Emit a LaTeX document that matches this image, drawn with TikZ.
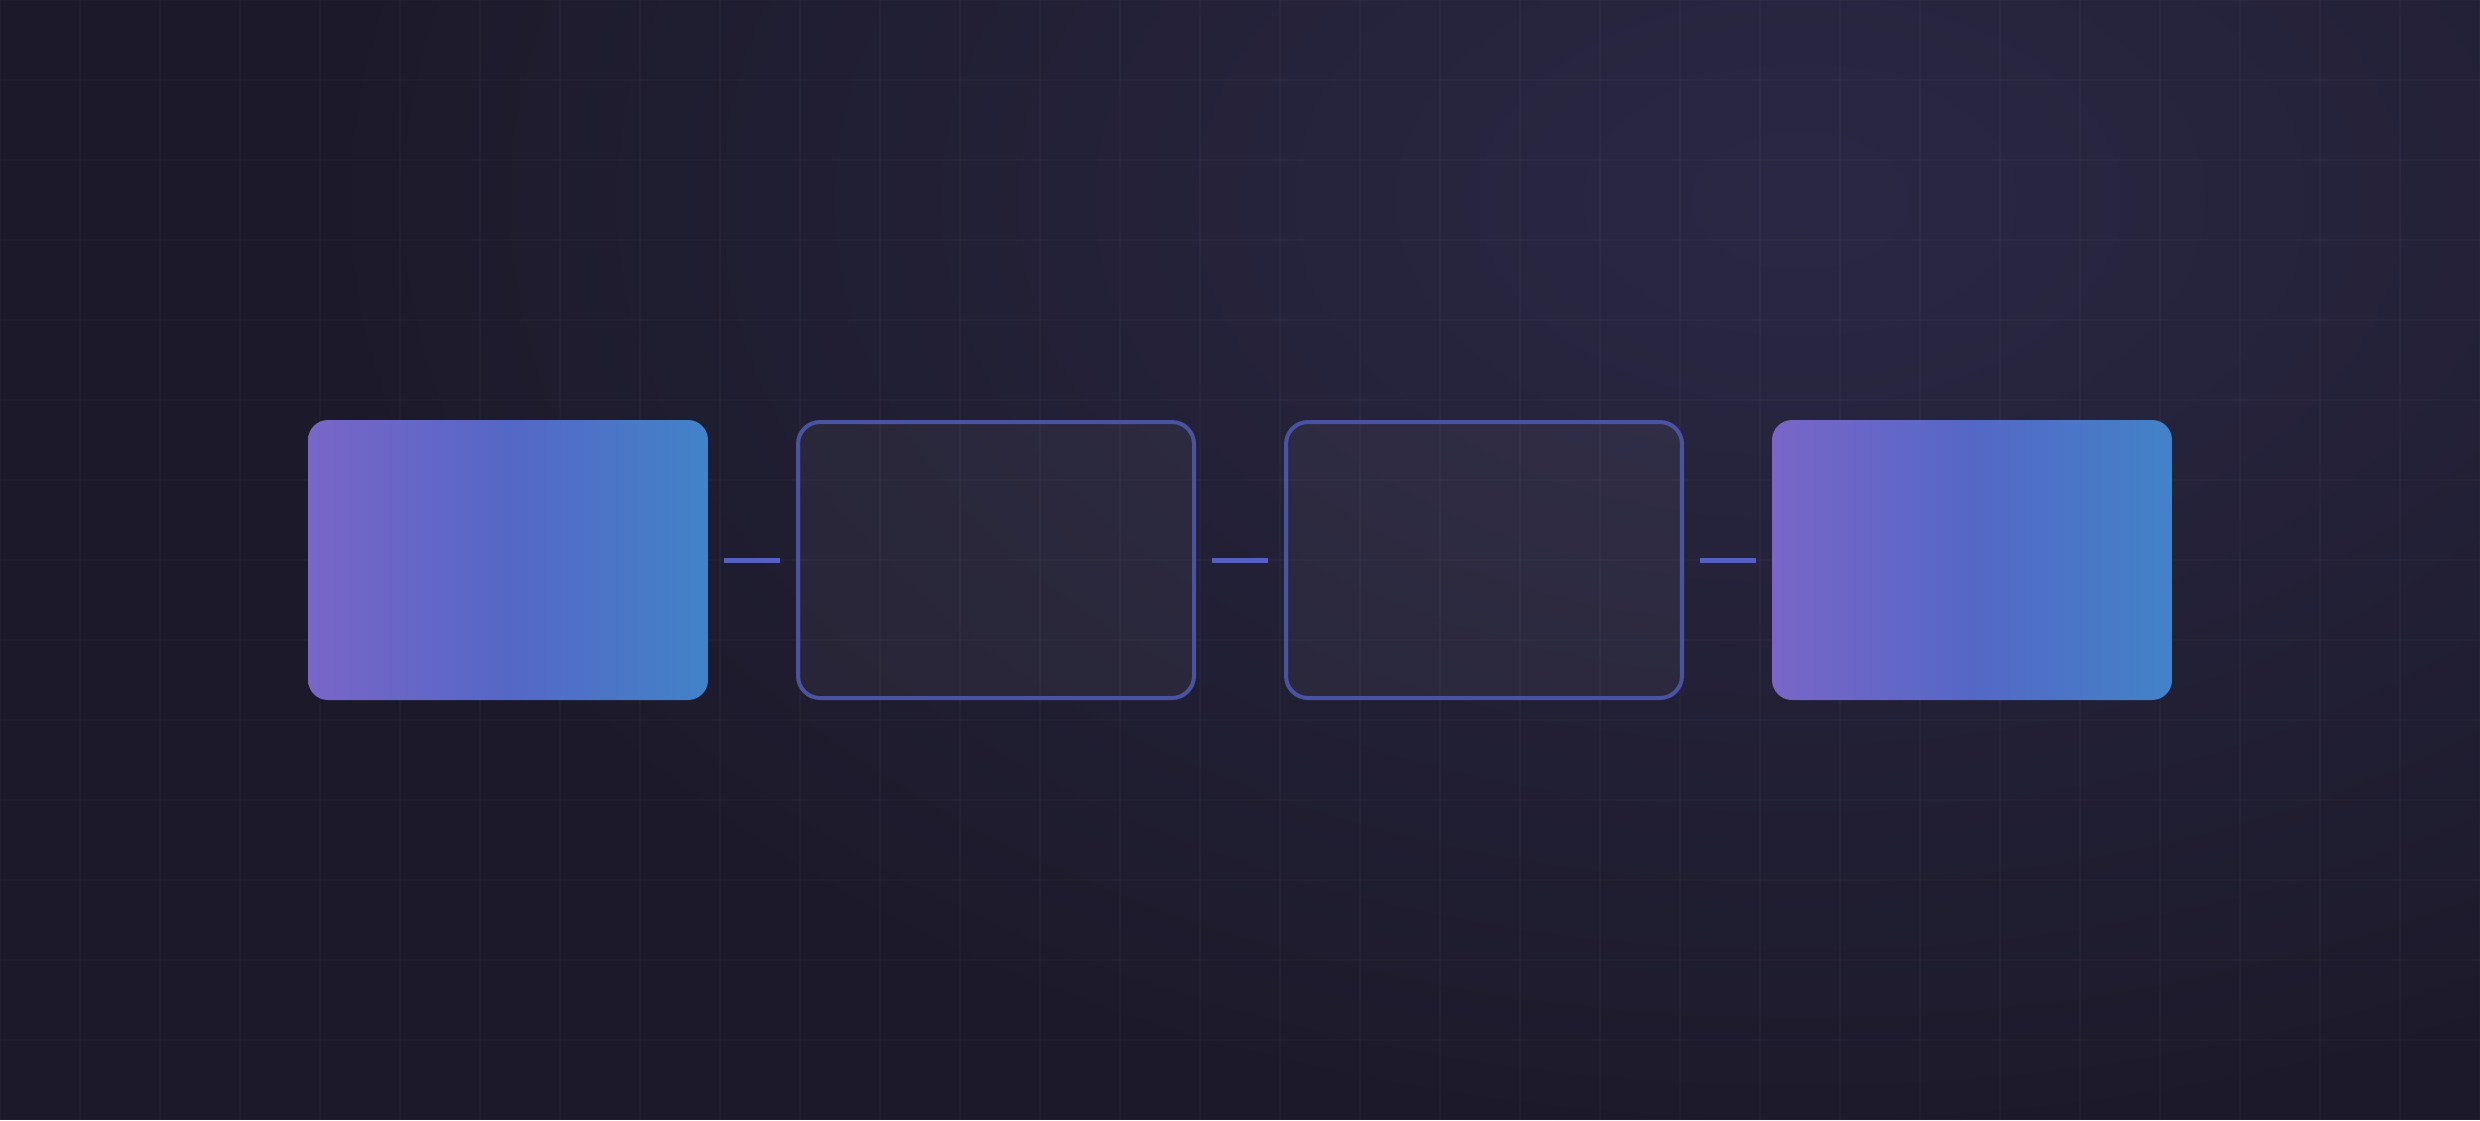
\documentclass[tikz,border=0pt]{standalone}
\usetikzlibrary{fadings}
\definecolor{bgbase}{HTML}{1C1A2A}
\definecolor{bgglow}{HTML}{2B2845}
\definecolor{gA}{HTML}{7966C8}
\definecolor{gB}{HTML}{5567C6}
\definecolor{gC}{HTML}{4283C8}
\definecolor{cardborder}{HTML}{4A52A2}
\definecolor{linkc}{HTML}{5560C0}
\tikzfading[name=glowfade, inner color=transparent!0, outer color=transparent!100]
\pgfdeclarehorizontalshading{cardgrad}{100bp}{color(0bp)=(gA); color(25bp)=(gA); color(50bp)=(gB); color(75bp)=(gC); color(100bp)=(gC)}
\tikzset{
  gradcard/.style={rectangle, rounded corners=10pt, minimum width=200pt, minimum height=140pt,
    inner sep=0pt, outer sep=0pt, shading=cardgrad},
  linecard/.style={rectangle, rounded corners=11pt, minimum width=198pt, minimum height=138pt,
    inner sep=0pt, outer sep=1pt, draw=cardborder, line width=2pt, fill=white, fill opacity=0.045,
    draw opacity=1},
  link/.style={draw=linkc, line width=2.5pt, shorten <=8pt, shorten >=8pt},
  gridline/.style={draw=white, draw opacity=0.025, line width=0.75pt}
}
\begin{document}
\begin{tikzpicture}[x=0.5pt,y=-0.5pt]
\useasboundingbox (0,0) rectangle (2480,1120);
\fill[bgbase] (0,0) rectangle (2480,1120);
\fill[bgglow, path fading=glowfade] (1800,200) ellipse [x radius=1500, y radius=950];
\foreach \gx in {0,80,...,2480} { \draw[gridline] (\gx,0) -- (\gx,1120); }
\foreach \gy in {0,80,...,1120} { \draw[gridline] (0,\gy) -- (2480,\gy); }
\node[gradcard] (b1) at (508,560) {};
\node[linecard] (b2) at (996,560) {};
\node[linecard] (b3) at (1484,560) {};
\node[gradcard] (b4) at (1972,560) {};
\draw[link] (b1.east) -- (b2.west);
\draw[link] (b2.east) -- (b3.west);
\draw[link] (b3.east) -- (b4.west);
\end{tikzpicture}
\end{document}
